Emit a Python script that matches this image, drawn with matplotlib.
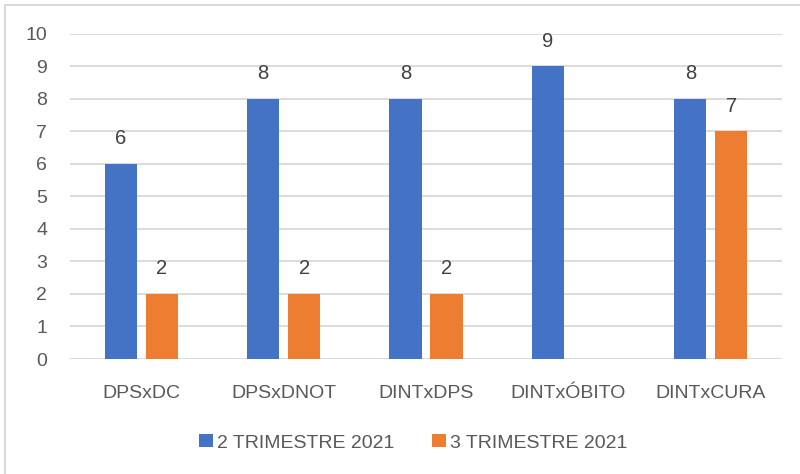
import matplotlib
matplotlib.use("Agg")
import numpy as np
from matplotlib import pyplot as plt
from matplotlib.patches import Rectangle

# dados do grafico
categorias = ["DPSxDC", "DPSxDNOT", "DINTxDPS", "DINTxÓBITO", "DINTxCURA"]
serie_2tri = [6, 8, 8, 9, 8]
serie_3tri = [2, 2, 2, None, 7]
nomes_series = ["2 TRIMESTRE 2021", "3 TRIMESTRE 2021"]
yticks = list(range(0, 11))

plt.rcParams['font.family'] = ['Liberation Sans', 'DejaVu Sans']

azul = '#4472C4'
laranja = '#ED7D31'
cinza_grade = '#D9D9D9'

fig = plt.figure(figsize=(8, 4.74), dpi=100)
ax = fig.add_axes([70/800, 1-359/474, 712/800, (359-33.7)/474])

# moldura do grafico (cortada na imagem original)
fig.patches.append(Rectangle((5/800, -0.1), 1.2, 1.1-4.5/474, transform=fig.transFigure,
                             fill=False, edgecolor=cinza_grade, lw=1.5))

x = np.arange(len(categorias))
larg = 0.225
desl = 0.144

v3 = [np.nan if v is None else v for v in serie_3tri]
b1 = ax.bar(x - desl, serie_2tri, larg, color=azul, label=nomes_series[0], zorder=3)
b2 = ax.bar(x + desl, v3, larg, color=laranja, label=nomes_series[1], zorder=3)

for barras, vals in ((b1, serie_2tri), (b2, serie_3tri)):
    for r, v in zip(barras, vals):
        if v is None:
            continue
        ax.annotate(str(v), (r.get_x() + r.get_width()/2, v), xytext=(0, 25),
                    textcoords='offset pixels', ha='center', va='center',
                    fontsize=14.5, color='#404040', annotation_clip=False)

ax.set_xlim(-0.5, len(categorias) - 0.5)
ax.set_ylim(0, 10)
ax.set_yticks(yticks)
ax.set_xticks(x)
ax.set_xticklabels(categorias)
ax.tick_params(axis='both', length=0, labelsize=14, labelcolor='#595959')
ax.tick_params(axis='y', pad=16.5)
ax.tick_params(axis='x', pad=19)
ax.grid(axis='y', color=cinza_grade, lw=1.3, zorder=0)
for s in ax.spines.values():
    s.set_visible(False)

ax.legend(loc='center', bbox_to_anchor=(413/800, 1-443/474), bbox_transform=fig.transFigure,
          ncol=2, frameon=False, fontsize=14, labelcolor='#595959',
          handlelength=0.72, handleheight=0.62, handletextpad=0.2, columnspacing=1.95)

fig.savefig('out.png', dpi=100)
